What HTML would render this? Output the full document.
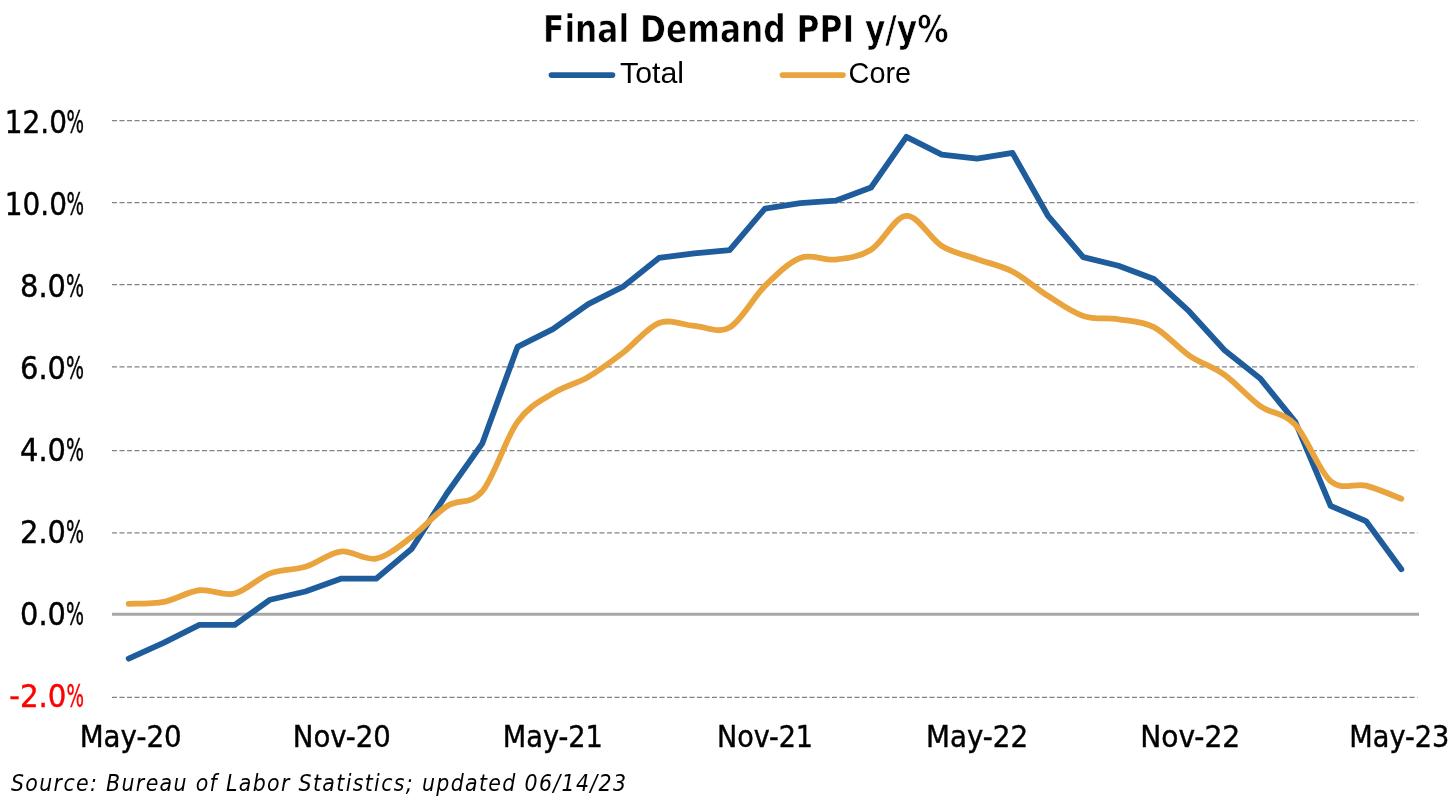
<!DOCTYPE html>
<html><head><meta charset="utf-8"><title>Final Demand PPI y/y%</title>
<style>html,body{margin:0;padding:0;background:#fff;overflow:hidden;}svg{display:block;filter:blur(0.45px);}</style></head>
<body><svg width="1456" height="808" viewBox="0 0 1456 808">
<rect width="1456" height="808" fill="#fff"/>
<line x1="112.0" y1="120.60" x2="1417.5" y2="120.60" stroke="#838383" stroke-width="1.2" stroke-dasharray="5 2.5"/>
<line x1="112.0" y1="202.60" x2="1417.5" y2="202.60" stroke="#838383" stroke-width="1.2" stroke-dasharray="5 2.5"/>
<line x1="112.0" y1="284.60" x2="1417.5" y2="284.60" stroke="#838383" stroke-width="1.2" stroke-dasharray="5 2.5"/>
<line x1="112.0" y1="366.90" x2="1417.5" y2="366.90" stroke="#838383" stroke-width="1.2" stroke-dasharray="5 2.5"/>
<line x1="112.0" y1="450.60" x2="1417.5" y2="450.60" stroke="#838383" stroke-width="1.2" stroke-dasharray="5 2.5"/>
<line x1="112.0" y1="532.80" x2="1417.5" y2="532.80" stroke="#838383" stroke-width="1.2" stroke-dasharray="5 2.5"/>
<line x1="112.0" y1="697.30" x2="1417.5" y2="697.30" stroke="#838383" stroke-width="1.2" stroke-dasharray="5 2.5"/>
<line x1="112.0" y1="614.16" x2="1419.0" y2="614.16" stroke="#a8a8a8" stroke-width="3"/>
<path d="M128.68,658.61 L164.03,642.55 L199.38,624.84 L234.73,624.84 L270.08,599.72 L305.43,591.49 L340.78,578.72 L376.14,578.72 L411.49,549.07 L446.84,493.48 L482.19,443.65 L517.54,346.88 L552.89,329.17 L588.24,304.05 L623.59,286.34 L658.95,257.93 L694.30,253.40 L729.65,250.11 L765.00,208.51 L800.35,203.16 L835.70,200.69 L871.05,187.51 L906.41,136.86 L941.76,154.57 L977.11,158.69 L1012.46,152.92 L1047.81,215.51 L1083.16,257.11 L1118.51,265.75 L1153.86,278.93 L1189.22,311.46 L1224.57,350.17 L1259.92,378.18 L1295.27,421.83 L1330.62,505.83 L1365.97,521.07 L1401.32,569.25" fill="none" stroke="#1f5c9c" stroke-width="5.8" stroke-linecap="round" stroke-linejoin="round"/>
<path d="M128.68,603.84 C134.57,603.50 152.24,604.05 164.03,601.78 C175.81,599.52 187.59,591.62 199.38,590.25 C211.16,588.88 222.95,596.36 234.73,593.55 C246.51,590.73 258.30,577.83 270.08,573.37 C281.86,568.91 293.65,570.42 305.43,566.78 C317.22,563.14 329.00,552.92 340.78,551.54 C352.57,550.17 364.35,560.95 376.14,558.54 C387.92,556.14 399.70,545.85 411.49,537.13 C423.27,528.41 435.05,513.86 446.84,506.24 C458.62,498.63 470.41,505.49 482.19,491.42 C493.97,477.35 505.76,438.16 517.54,421.83 C529.32,405.49 541.11,400.89 552.89,393.41 C564.68,385.93 576.46,383.80 588.24,376.94 C600.03,370.08 611.81,361.22 623.59,352.23 C635.38,343.24 647.16,327.39 658.95,322.99 C670.73,318.60 682.51,325.12 694.30,325.88 C706.08,326.63 717.86,334.18 729.65,327.52 C741.43,320.87 753.22,297.53 765.00,285.93 C776.78,274.33 788.57,262.32 800.35,257.93 C812.14,253.54 823.92,260.95 835.70,259.58 C847.49,258.20 859.27,256.97 871.05,249.69 C882.84,242.42 894.62,216.54 906.41,215.93 C918.19,215.31 929.97,238.78 941.76,245.99 C953.54,253.19 965.32,254.91 977.11,259.16 C988.89,263.42 1000.68,265.41 1012.46,271.52 C1024.24,277.63 1036.03,288.40 1047.81,295.81 C1059.59,303.23 1071.38,312.08 1083.16,315.99 C1094.95,319.91 1106.73,317.43 1118.51,319.29 C1130.30,321.14 1142.08,321.07 1153.86,327.11 C1165.65,333.15 1177.43,347.56 1189.22,355.53 C1201.00,363.49 1212.78,366.51 1224.57,374.88 C1236.35,383.25 1248.14,397.46 1259.92,405.77 C1271.70,414.07 1283.49,412.15 1295.27,424.71 C1307.05,437.27 1318.84,470.97 1330.62,481.12 C1342.41,491.28 1354.19,482.70 1365.97,485.65 C1377.76,488.61 1395.43,496.64 1401.32,498.83" fill="none" stroke="#e9a43d" stroke-width="5.8" stroke-linecap="round" stroke-linejoin="round"/>
<line x1="551.4" y1="75.1" x2="612.5" y2="75.1" stroke="#1f5c9c" stroke-width="5.6" stroke-linecap="round"/>
<line x1="782.4" y1="75.1" x2="843" y2="75.1" stroke="#e9a43d" stroke-width="5.6" stroke-linecap="round"/>
<text x="543.00" y="41.50" font-family="'DejaVu Sans', 'Liberation Sans', sans-serif" font-size="37.4" font-weight="bold" style="font-stretch:condensed" stroke="#fff" stroke-width="0.6" textLength="405.50" lengthAdjust="spacingAndGlyphs" fill="#000">Final Demand PPI y/y%</text>
<text x="620.00" y="83.00" font-family="'Liberation Sans', Arial, sans-serif" font-size="30" textLength="64.00" lengthAdjust="spacingAndGlyphs" fill="#000">Total</text>
<text x="848.60" y="83.00" font-family="'Liberation Sans', Arial, sans-serif" font-size="30" textLength="62.40" lengthAdjust="spacingAndGlyphs" fill="#000">Core</text>
<text y="132.50" font-family="'DejaVu Sans', 'Liberation Sans', sans-serif" font-size="31.2" style="font-stretch:condensed" stroke="#000" stroke-width="0.4" fill="#000"><tspan x="4.80" textLength="62.20" lengthAdjust="spacingAndGlyphs">12.0</tspan><tspan x="66.50" textLength="17.50" lengthAdjust="spacingAndGlyphs">%</tspan></text>
<text y="214.63" font-family="'DejaVu Sans', 'Liberation Sans', sans-serif" font-size="31.2" style="font-stretch:condensed" stroke="#000" stroke-width="0.4" fill="#000"><tspan x="4.80" textLength="62.20" lengthAdjust="spacingAndGlyphs">10.0</tspan><tspan x="66.50" textLength="17.50" lengthAdjust="spacingAndGlyphs">%</tspan></text>
<text y="296.76" font-family="'DejaVu Sans', 'Liberation Sans', sans-serif" font-size="31.2" style="font-stretch:condensed" stroke="#000" stroke-width="0.4" fill="#000"><tspan x="20.10" textLength="45.90" lengthAdjust="spacingAndGlyphs">8.0</tspan><tspan x="66.00" textLength="18.00" lengthAdjust="spacingAndGlyphs">%</tspan></text>
<text y="378.89" font-family="'DejaVu Sans', 'Liberation Sans', sans-serif" font-size="31.2" style="font-stretch:condensed" stroke="#000" stroke-width="0.4" fill="#000"><tspan x="20.10" textLength="45.90" lengthAdjust="spacingAndGlyphs">6.0</tspan><tspan x="66.00" textLength="18.00" lengthAdjust="spacingAndGlyphs">%</tspan></text>
<text y="461.02" font-family="'DejaVu Sans', 'Liberation Sans', sans-serif" font-size="31.2" style="font-stretch:condensed" stroke="#000" stroke-width="0.4" fill="#000"><tspan x="20.10" textLength="45.90" lengthAdjust="spacingAndGlyphs">4.0</tspan><tspan x="66.00" textLength="18.00" lengthAdjust="spacingAndGlyphs">%</tspan></text>
<text y="543.15" font-family="'DejaVu Sans', 'Liberation Sans', sans-serif" font-size="31.2" style="font-stretch:condensed" stroke="#000" stroke-width="0.4" fill="#000"><tspan x="20.10" textLength="45.90" lengthAdjust="spacingAndGlyphs">2.0</tspan><tspan x="66.00" textLength="18.00" lengthAdjust="spacingAndGlyphs">%</tspan></text>
<text y="625.28" font-family="'DejaVu Sans', 'Liberation Sans', sans-serif" font-size="31.2" style="font-stretch:condensed" stroke="#000" stroke-width="0.4" fill="#000"><tspan x="20.10" textLength="45.90" lengthAdjust="spacingAndGlyphs">0.0</tspan><tspan x="66.00" textLength="18.00" lengthAdjust="spacingAndGlyphs">%</tspan></text>
<text y="707.41" font-family="'DejaVu Sans', 'Liberation Sans', sans-serif" font-size="31.2" style="font-stretch:condensed" stroke="#ff0000" stroke-width="0.4" fill="#ff0000"><tspan x="9.30" textLength="57.20" lengthAdjust="spacingAndGlyphs">-2.0</tspan><tspan x="66.50" textLength="17.50" lengthAdjust="spacingAndGlyphs">%</tspan></text>
<text x="79.68" y="747.10" font-family="'DejaVu Sans', 'Liberation Sans', sans-serif" font-size="30" style="font-stretch:condensed" stroke="#000" stroke-width="0.4" textLength="102.00" lengthAdjust="spacingAndGlyphs" fill="#000">May-20</text>
<text x="292.78" y="747.10" font-family="'DejaVu Sans', 'Liberation Sans', sans-serif" font-size="30" style="font-stretch:condensed" stroke="#000" stroke-width="0.4" textLength="98.00" lengthAdjust="spacingAndGlyphs" fill="#000">Nov-20</text>
<text x="502.89" y="747.10" font-family="'DejaVu Sans', 'Liberation Sans', sans-serif" font-size="30" style="font-stretch:condensed" stroke="#000" stroke-width="0.4" textLength="100.00" lengthAdjust="spacingAndGlyphs" fill="#000">May-21</text>
<text x="717.00" y="747.10" font-family="'DejaVu Sans', 'Liberation Sans', sans-serif" font-size="30" style="font-stretch:condensed" stroke="#000" stroke-width="0.4" textLength="96.00" lengthAdjust="spacingAndGlyphs" fill="#000">Nov-21</text>
<text x="926.11" y="747.10" font-family="'DejaVu Sans', 'Liberation Sans', sans-serif" font-size="30" style="font-stretch:condensed" stroke="#000" stroke-width="0.4" textLength="102.00" lengthAdjust="spacingAndGlyphs" fill="#000">May-22</text>
<text x="1140.22" y="747.10" font-family="'DejaVu Sans', 'Liberation Sans', sans-serif" font-size="30" style="font-stretch:condensed" stroke="#000" stroke-width="0.4" textLength="100.00" lengthAdjust="spacingAndGlyphs" fill="#000">Nov-22</text>
<text x="1349.32" y="747.10" font-family="'DejaVu Sans', 'Liberation Sans', sans-serif" font-size="30" style="font-stretch:condensed" stroke="#000" stroke-width="0.4" textLength="100.00" lengthAdjust="spacingAndGlyphs" fill="#000">May-23</text>
<text x="11.00" y="790.60" font-family="'DejaVu Sans', 'Liberation Sans', sans-serif" font-size="22.8" font-style="italic" style="font-stretch:condensed" textLength="615.00" lengthAdjust="spacing" fill="#000">Source: Bureau of Labor Statistics; updated 06/14/23</text>
</svg></body></html>
